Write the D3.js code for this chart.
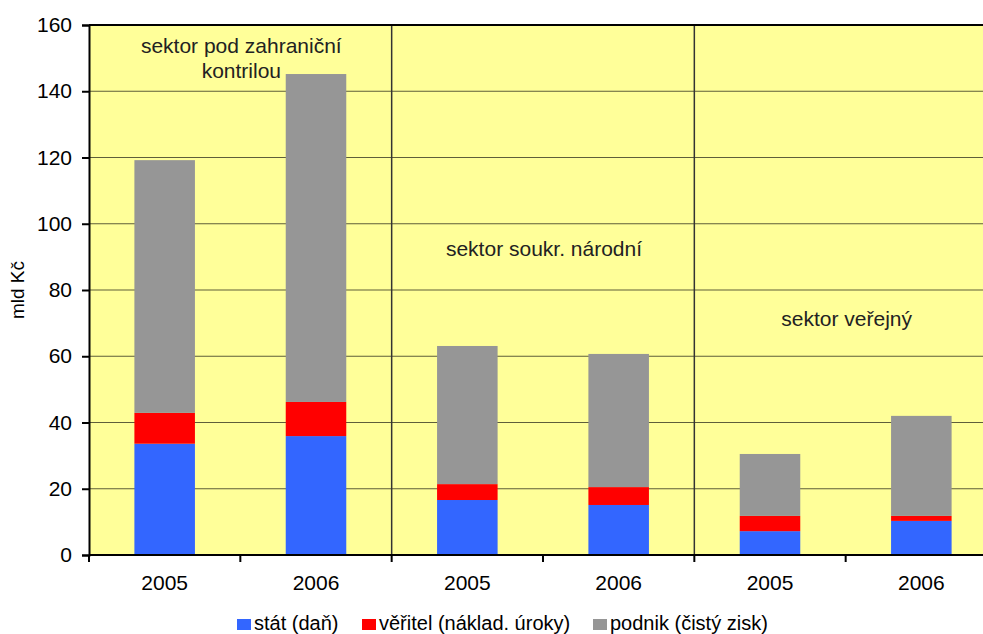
<!DOCTYPE html>
<html>
<head>
<meta charset="utf-8">
<script src="https://cdn.jsdelivr.net/npm/d3@7"></script>
<style>
  body { margin: 0; background: #fff; }
  svg text { font-family: "Liberation Sans", Arial, sans-serif; fill: #000; }
</style>
</head>
<body>
<svg width="983" height="634"></svg>
<script>
// data
var years = ["2005", "2006", "2005", "2006", "2005", "2006"];
var stat = [33.6, 35.9, 16.6, 15.1, 7.2, 10.3];     // stát (daň)
var veritel = [9.3, 10.3, 4.8, 5.4, 4.6, 1.5];       // věřitel (náklad. úroky)
var podnik = [76.3, 99.0, 41.7, 40.2, 18.7, 30.2];  // podnik (čistý zisk)
var seriesNames = ["stát (daň)", "věřitel (náklad. úroky)", "podnik (čistý zisk)"];
var colors = ["#3366ff", "#ff0000", "#969696"];
var yTicks = [0, 20, 40, 60, 80, 100, 120, 140, 160];
var sectorLabels = [
  { lines: ["sektor pod zahraniční", "kontrilou"], group: 0, value: 151.5 },
  { lines: ["sektor soukr. národní"], group: 2, value: 90.2 },
  { lines: ["sektor veřejný"], group: 4, value: 69.2 }
];

var svg = d3.select("svg");
var plotL = 89, plotR = 997, plotT = 25, plotB = 555;

var x = d3.scaleBand().domain(d3.range(years.length)).range([plotL, plotR]).padding(0);
var y = d3.scaleLinear().domain([0, 160]).range([plotB, plotT]);

// plot background
svg.append("rect")
  .attr("x", plotL).attr("y", plotT)
  .attr("width", plotR - plotL).attr("height", plotB - plotT)
  .attr("fill", "#ffff99");

// gridlines
svg.append("g").selectAll("line")
  .data(yTicks.filter(function(d) { return d > 0 && d < 160; }))
  .enter().append("line")
  .attr("x1", plotL).attr("x2", plotR)
  .attr("y1", function(d) { return y(d); })
  .attr("y2", function(d) { return y(d); })
  .attr("stroke", "#5e5e3a").attr("stroke-width", 1.2);

// stacked bars
var rows = years.map(function(yr, i) {
  return { i: i, s0: stat[i], s1: veritel[i], s2: podnik[i] };
});
var stack = d3.stack().keys(["s0", "s1", "s2"]);
var layers = stack(rows);
var barW = x.bandwidth() * 0.4;

svg.append("g").selectAll("g")
  .data(layers)
  .enter().append("g")
  .attr("fill", function(d, k) { return colors[k]; })
  .selectAll("rect")
  .data(function(d) { return d; })
  .enter().append("rect")
  .attr("x", function(d) { return x(d.data.i) + (x.bandwidth() - barW) / 2; })
  .attr("width", barW)
  .attr("y", function(d) { return y(d[1]); })
  .attr("height", function(d) { return y(d[0]) - y(d[1]); });

// sector separators
svg.append("g").selectAll("line")
  .data([2, 4])
  .enter().append("line")
  .attr("x1", function(d) { return x(d); })
  .attr("x2", function(d) { return x(d); })
  .attr("y1", plotT).attr("y2", plotB)
  .attr("stroke", "#333").attr("stroke-width", 1.5);

// sector labels
sectorLabels.forEach(function(s) {
  var cx = x(s.group) + x.bandwidth();
  var t = svg.append("text")
    .attr("text-anchor", "middle")
    .attr("font-size", 21)
    .style("fill", "#222");
  s.lines.forEach(function(line, j) {
    t.append("tspan")
      .attr("x", cx + 1)
      .attr("y", y(s.value) + j * 25)
      .text(line);
  });
});

// frame: top border
svg.append("line")
  .attr("x1", plotL).attr("x2", plotR)
  .attr("y1", plotT).attr("y2", plotT)
  .attr("stroke", "#000").attr("stroke-width", 2);

// y axis
var yAxis = d3.axisLeft(y).tickValues(yTicks).tickSize(7).tickPadding(10);
var gy = svg.append("g").attr("transform", "translate(" + plotL + ",0)").call(yAxis);
gy.select(".domain").attr("stroke", "#000").attr("stroke-width", 2);
gy.selectAll(".tick line").attr("stroke", "#000").attr("stroke-width", 2);
gy.selectAll(".tick text").attr("font-size", 21).attr("font-family", "Liberation Sans, Arial, sans-serif");

// x axis: ticks between categories, labels centred
var gx = svg.append("g");
gx.append("line")
  .attr("x1", plotL).attr("x2", plotR)
  .attr("y1", plotB).attr("y2", plotB)
  .attr("stroke", "#000").attr("stroke-width", 2);
gx.selectAll("line.tk")
  .data(d3.range(years.length + 1))
  .enter().append("line").attr("class", "tk")
  .attr("x1", function(d) { return plotL + d * x.step(); })
  .attr("x2", function(d) { return plotL + d * x.step(); })
  .attr("y1", plotB).attr("y2", plotB + 7)
  .attr("stroke", "#000").attr("stroke-width", 2);
gx.selectAll("text")
  .data(years)
  .enter().append("text")
  .attr("x", function(d, i) { return x(i) + x.bandwidth() / 2; })
  .attr("y", plotB + 35)
  .attr("text-anchor", "middle")
  .attr("font-size", 21)
  .text(function(d) { return d; });

// y axis title
svg.append("text")
  .attr("transform", "translate(24," + ((plotT + plotB) / 2) + ") rotate(-90)")
  .attr("text-anchor", "middle")
  .attr("font-size", 19)
  .text("mld Kč");

// legend
var legendX = [237, 362, 593];
var lg = svg.append("g").selectAll("g")
  .data(seriesNames)
  .enter().append("g")
  .attr("transform", function(d, i) { return "translate(" + legendX[i] + ",619)"; });
lg.append("rect")
  .attr("width", 14).attr("height", 11)
  .attr("fill", function(d, i) { return colors[i]; });
lg.append("text")
  .attr("x", 17).attr("y", 11)
  .attr("font-size", 20)
  .text(function(d) { return d; });
</script>
</body>
</html>
